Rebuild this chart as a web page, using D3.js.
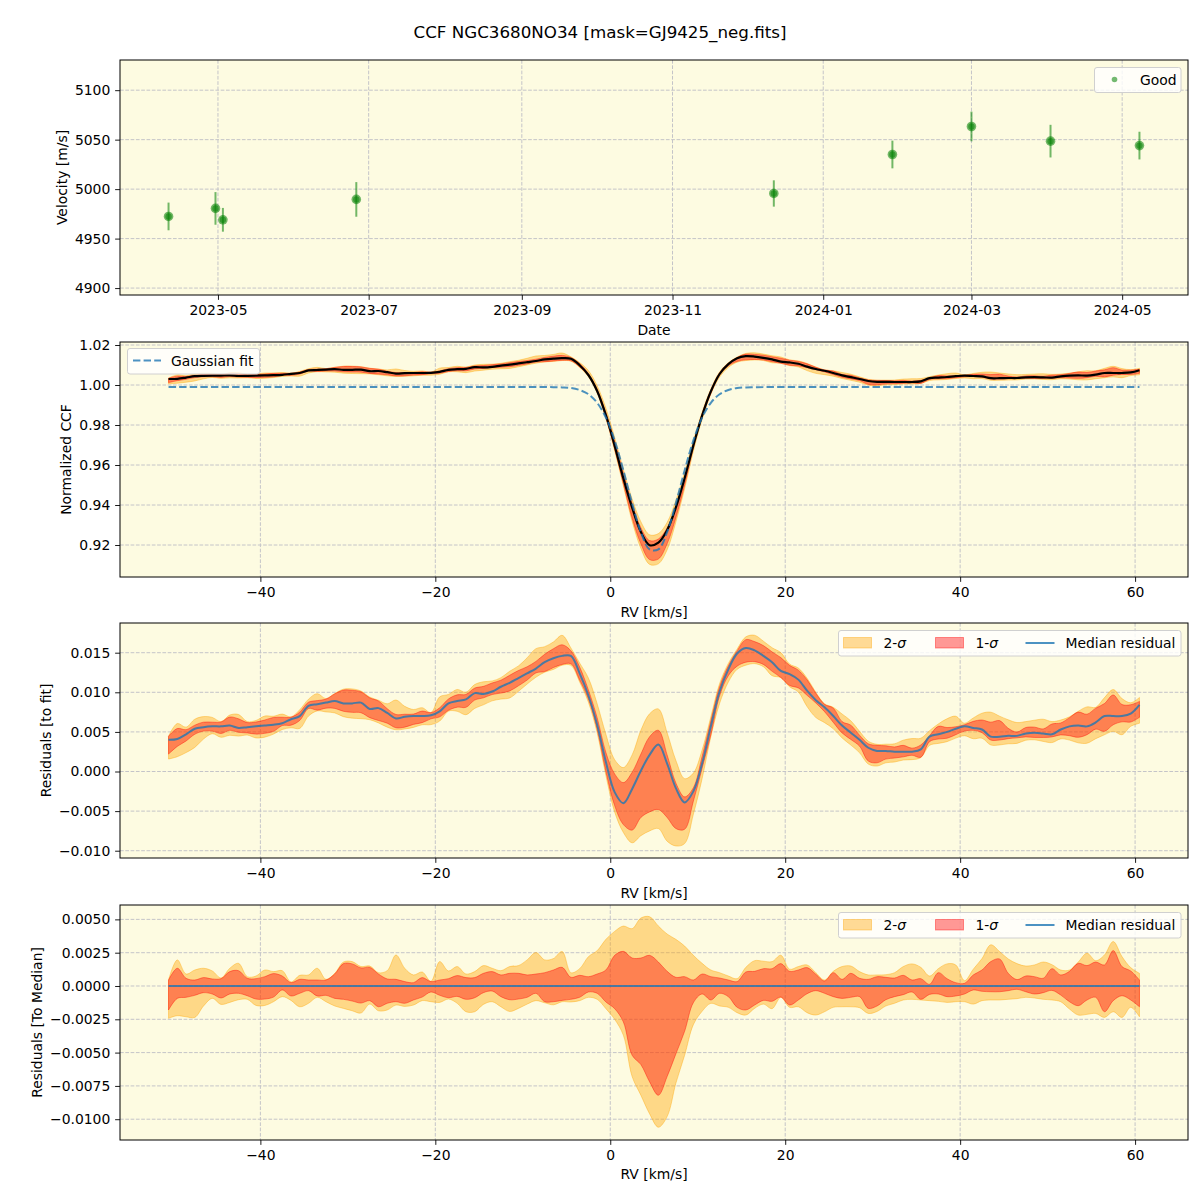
<!DOCTYPE html>
<html><head><meta charset="utf-8">
<script src="https://cdn.jsdelivr.net/npm/d3@7"></script>
<style>
body{margin:0;background:#fff;}
svg text{font-family:"DejaVu Sans",sans-serif;fill:#000;}
</style></head><body>
<svg id="c" width="1200" height="1200"></svg>
<script>
// ---------------- data ----------------
const obsDates = ["2023-04-11","2023-04-30","2023-05-03","2023-06-26","2023-12-12","2024-01-29","2024-03-01","2024-04-02","2024-05-08"];
const obsVel   = [4972.4,4980.5,4969.0,4989.6,4995.6,5035.0,5063.3,5048.5,5044.0];
const obsErr   = [14,16.5,12,17.5,13.3,14,15,16.5,14];
const dateTicks = ["2023-05-01","2023-07-01","2023-09-01","2023-11-01","2024-01-01","2024-03-01","2024-05-01"];
const velTicks = [4900,4950,5000,5050,5100];
const rvTicks  = [-40,-20,0,20,40,60];
const ccfTicks = [0.92,0.94,0.96,0.98,1.00,1.02];
const resTicks = [-0.010,-0.005,0,0.005,0.010,0.015];
const medTicks = [-0.0100,-0.0075,-0.0050,-0.0025,0,0.0025,0.0050];

const rv = [-50.5,-49.5,-48.5,-47.5,-46.5,-45.5,-44.5,-43.5,-42.5,-41.5,-40.5,-39.5,-38.5,-37.5,-36.5,-35.5,-34.5,-33.5,-32.5,-31.5,-30.5,-29.5,-28.5,-27.5,-26.5,-25.5,-24.5,-23.5,-22.5,-21.5,-20.5,-19.5,-18.5,-17.5,-16.5,-15.5,-14.5,-13.5,-12.5,-11.5,-10.5,-9.5,-8.5,-7.5,-6.5,-5.5,-4.5,-3.5,-2.5,-1.5,-0.5,0.5,1.5,2.5,3.5,4.5,5.5,6.5,7.5,8.5,9.5,10.5,11.5,12.5,13.5,14.5,15.5,16.5,17.5,18.5,19.5,20.5,21.5,22.5,23.5,24.5,25.5,26.5,27.5,28.5,29.5,30.5,31.5,32.5,33.5,34.5,35.5,36.5,37.5,38.5,39.5,40.5,41.5,42.5,43.5,44.5,45.5,46.5,47.5,48.5,49.5,50.5,51.5,52.5,53.5,54.5,55.5,56.5,57.5,58.5,59.5,60.5];

const gaussFit = [0.999,0.999,0.999,0.999,0.999,0.999,0.999,0.999,0.999,0.999,
0.999,0.999,0.999,0.999,0.999,0.999,0.999,0.999,0.999,0.999,
0.999,0.999,0.999,0.999,0.999,0.999,0.999,0.999,0.999,0.999,
0.999,0.999,0.999,0.999,0.999,0.999,0.999,0.999,0.999,0.999,
0.999,0.999,0.999,0.999,
0.9989,0.9988,0.9985,0.9975,0.9954,0.9911,0.9837,0.9723,0.9573,0.9409,0.9264,0.9178,0.9178,0.9264,0.9409,0.9573,0.9723,0.9837,0.9911,0.9954,0.9975,0.9985,0.9988,0.9989,
0.999,0.999,0.999,0.999,0.999,0.999,0.999,0.999,0.999,0.999,
0.999,0.999,0.999,0.999,0.999,0.999,0.999,0.999,0.999,0.999,
0.999,0.999,0.999,0.999,0.999,0.999,0.999,0.999,0.999,0.999,
0.999,0.999,0.999,0.999,0.999,0.999,0.999,0.999,0.999,0.999,
0.999,0.999,0.999,0.999];

const residMedian = [0.0040,0.0041,0.0047,0.0054,0.0056,0.0057,0.0057,0.0058,0.0055,0.0056,
0.0057,0.0058,0.0059,0.0061,0.0066,0.0070,0.0083,0.0085,0.0087,0.0089,
0.0086,0.0086,0.0087,0.0079,0.0080,0.0074,0.0067,0.0069,0.0070,0.0070,
0.0071,0.0076,0.0086,0.0089,0.0091,0.0099,0.0098,0.0101,0.0107,0.0112,
0.0118,0.0124,0.0130,0.0138,0.0143,0.0146,0.0146,0.0124,0.0096,0.0059,
0.0012,-0.0026,-0.0040,-0.0022,0.0001,0.0021,0.0034,0.0010,-0.0021,-0.0039,
-0.0025,0.0010,0.0057,0.0101,0.0129,0.0149,0.0156,0.0153,0.0146,0.0138,
0.0127,0.0123,0.0116,0.0102,0.0090,0.0081,0.0070,0.0058,0.0049,0.0040,
0.0030,0.0026,0.0026,0.0025,0.0025,0.0025,0.0028,0.0044,0.0047,0.0050,
0.0054,0.0057,0.0055,0.0053,0.0044,0.0044,0.0045,0.0045,0.0048,0.0049,
0.0048,0.0047,0.0053,0.0057,0.0058,0.0057,0.0062,0.0070,0.0070,0.0070,0.0073,0.0084];

// percentile offsets relative to the median CCF
const sig2Hi = [0.00045,0.00196,0.0009,0.0012,0.00133,0.00113,0.0006,0.00133,0.0017,0.0007,
0.00075,0.0012,0.00108,0.00115,0.0003,0.0008,0.00083,0.00133,0.0005,0.00095,
0.0018,0.00183,0.00146,0.0015,0.001,0.00115,0.00233,0.00133,0.00083,0.00105,
0.00035,0.00183,0.00113,0.00146,0.0009,0.00108,0.00153,0.00133,0.00115,0.00146,
0.00153,0.00196,0.00251,0.00196,0.00206,0.00259,0.0010,0.0013,0.0022,0.00265,
0.0035,0.0041,0.0045,0.0043,0.0051,0.0052,0.0045,0.0039,0.0035,0.0030,
0.0023,0.0017,0.0012,0.0010,0.00075,0.00055,0.0014,0.0019,0.00186,0.00183,
0.00231,0.00126,0.00146,0.00158,0.001,0.00045,0.0011,0.00146,0.0015,0.00108,
0.00083,0.00083,0.00085,0.001,0.00146,0.00166,0.0014,0.00075,0.0013,0.00166,
0.00158,0.0004,0.00126,0.00206,0.00309,0.00259,0.00203,0.00168,0.0015,0.00158,
0.0018,0.0016,0.0012,0.0012,0.0018,0.00246,0.0019,0.00233,0.00334,0.00221,0.00138,0.00095];
const sig1Hi = [0.00045,0.00133,0.00058,0.00045,0.00063,0.00053,0.00055,0.00108,0.00115,0.00058,
0.00055,0.0007,0.00093,0.00075,0.00025,0.0005,0.00045,0.00045,0.00045,0.0009,
0.00168,0.00166,0.00136,0.0014,0.0009,0.00053,0.0005,0.00033,0.00025,0.00063,
0.00033,0.00045,0.00055,0.00078,0.00063,0.00063,0.00095,0.00108,0.00083,0.00095,
0.00095,0.00083,0.0009,0.001,0.0012,0.0014,0.00065,0.0008,0.0007,0.0009,
0.0012,0.0023,0.0026,0.0021,0.0021,0.0023,0.0018,0.0011,0.00065,0.0007,
0.00045,0.0009,0.0007,0.0006,0.00045,0.00033,0.00105,0.0011,0.0013,0.0013,
0.00168,0.0011,0.0012,0.00138,0.00088,0.00038,0.001,0.0005,0.00095,0.00058,
0.0005,0.0007,0.00065,0.0006,0.0008,0.00045,0.00055,0.00013,0.001,0.00055,
0.00025,0.0002,0.00083,0.0012,0.00183,0.00203,0.00095,0.00048,0.00075,0.0007,
0.00058,0.0013,0.00083,0.0011,0.0017,0.00153,0.0018,0.00158,0.00266,0.00146,0.00113,0.00045];
const sig1Lo = [-0.0018,-0.00093,-0.00085,-0.0007,-0.0005,-0.0006,-0.0009,-0.0006,-0.00055,-0.00073,
-0.00098,-0.00098,-0.00083,-0.0003,-0.00075,-0.00055,-0.00035,-0.00075,-0.0007,-0.00093,
-0.001,-0.00113,-0.00128,-0.0011,-0.00156,-0.0013,-0.00118,-0.0013,-0.00105,-0.00083,
-0.00045,-0.0007,-0.00088,-0.00078,-0.001,-0.00088,-0.0005,-0.00038,-0.0008,-0.00103,
-0.00098,-0.00085,-0.00055,-0.00118,-0.00118,-0.00108,-0.001,-0.00085,-0.00045,-0.00055,
-0.0012,-0.0017,-0.0027,-0.0052,-0.0059,-0.0072,-0.0082,-0.0068,-0.0051,-0.0034,
-0.00125,-0.0006,-0.00105,-0.00055,-0.0008,-0.0016,-0.0018,-0.00143,-0.00108,-0.00115,
-0.00083,-0.00143,-0.00105,-0.00058,-0.00035,-0.00055,-0.0008,-0.00093,-0.00085,-0.0008,
-0.00168,-0.0015,-0.00103,-0.0008,-0.00065,-0.00045,-0.001,-0.00063,-0.0006,-0.0008,
-0.00075,-0.0006,-0.0003,-0.0004,-0.00043,-0.00043,-0.00035,-0.00025,-0.00043,-0.0006,
-0.0005,-0.00033,-0.00068,-0.00118,-0.00148,-0.00105,-0.00085,-0.00193,-0.0011,-0.00073,-0.00105,-0.00156];
const sig2Lo = [-0.00243,-0.00223,-0.00231,-0.00236,-0.0015,-0.00093,-0.00138,-0.00123,-0.00103,-0.001,
-0.00146,-0.00146,-0.00118,-0.0008,-0.00108,-0.00156,-0.0013,-0.00085,-0.00118,-0.0015,
-0.00168,-0.00186,-0.00203,-0.00136,-0.00186,-0.0018,-0.00143,-0.00153,-0.00143,-0.0011,
-0.00118,-0.00123,-0.00098,-0.0013,-0.00193,-0.00193,-0.00138,-0.00118,-0.00156,-0.00191,
-0.00168,-0.00136,-0.0011,-0.00126,-0.00141,-0.00118,-0.0012,-0.0011,-0.00085,-0.001,
-0.0017,-0.0025,-0.0037,-0.0068,-0.0082,-0.0096,-0.0106,-0.0098,-0.0073,-0.0052,
-0.0029,-0.0019,-0.0013,-0.0015,-0.0016,-0.002,-0.00218,-0.00168,-0.00136,-0.0017,
-0.00085,-0.0016,-0.00156,-0.002,-0.00218,-0.00193,-0.0016,-0.00156,-0.00156,-0.00163,
-0.00206,-0.00191,-0.0015,-0.0013,-0.00105,-0.001,-0.00105,-0.0011,-0.00115,-0.00123,
-0.00118,-0.00118,-0.00136,-0.0011,-0.00105,-0.00105,-0.001,-0.00095,-0.00085,-0.0009,
-0.001,-0.00105,-0.00118,-0.00173,-0.00218,-0.00213,-0.00206,-0.00236,-0.00193,-0.00236,-0.0016,-0.00231];

// ---------------- layout ----------------
const svg = d3.select("#c");
const L = 120, R = 1188;
const P = [{top:60,bottom:295},{top:342,bottom:577},{top:623,bottom:858},{top:905,bottom:1140}];
const BG = "#fdfbe1";
const GRID = "#c4c4c8";
const ORANGE = "#FFA500", RED = "#FF0000", BLUE = "#1f77b4", GREEN = "#008000";
const TS = 4.86, FS = "13.9px";
const minus = s => s.replace(/-/g, "\u2212");

const ccfMedian = gaussFit.map((g,i) => g + residMedian[i]);

function bg(p){
  svg.append("rect").attr("x",L).attr("y",p.top).attr("width",R-L).attr("height",p.bottom-p.top).attr("fill",BG);
}
function grid(p, xs, xt, ys, yt){
  const g = svg.append("g").attr("stroke",GRID).attr("stroke-width",1).attr("stroke-dasharray","3.7,1.6");
  xt.forEach(t => g.append("line").attr("x1",xs(t)).attr("x2",xs(t)).attr("y1",p.top).attr("y2",p.bottom));
  yt.forEach(t => g.append("line").attr("x1",L).attr("x2",R).attr("y1",ys(t)).attr("y2",ys(t)));
}
function axes(p, xs, xt, xfmt, ys, yt, yfmt){
  svg.append("rect").attr("x",L).attr("y",p.top).attr("width",R-L).attr("height",p.bottom-p.top)
    .attr("fill","none").attr("stroke","#000").attr("stroke-width",1);
  const gx = svg.append("g").attr("transform",`translate(0,${p.bottom})`)
    .call(d3.axisBottom(xs).tickValues(xt).tickFormat(xfmt).tickSize(TS).tickPadding(TS).tickSizeOuter(0));
  const gy = svg.append("g").attr("transform",`translate(${L},0)`)
    .call(d3.axisLeft(ys).tickValues(yt).tickFormat(yfmt).tickSize(TS).tickPadding(TS).tickSizeOuter(0));
  [gx,gy].forEach(g => {
    g.select(".domain").remove();
    g.selectAll("line").attr("stroke","#000").attr("stroke-width",0.9);
    g.selectAll("text").style("font-family","DejaVu Sans, sans-serif").style("font-size",FS).attr("fill","#000");
  });
}
function ylabel(txt, x, p){
  svg.append("text").attr("transform",`translate(${x},${(p.top+p.bottom)/2}) rotate(-90)`)
    .attr("text-anchor","middle").attr("dominant-baseline","central").style("font-size",FS).text(txt);
}
function xlabel(txt, y){
  svg.append("text").attr("x",(L+R)/2).attr("y",y).attr("text-anchor","middle")
    .attr("dominant-baseline","central").style("font-size",FS).text(txt);
}
function bandPath(g, xs, ys, base, lo, hi, color){
  const area = d3.area().curve(d3.curveCatmullRom)
    .x((d,i) => xs(rv[i])).y0((d,i) => ys(base[i] + lo[i])).y1((d,i) => ys(base[i] + hi[i]));
  g.append("path").datum(rv).attr("d",area).attr("fill",color).attr("fill-opacity",0.4)
    .attr("stroke",color).attr("stroke-opacity",0.4).attr("stroke-width",1);
}
function sigmaLegend(y0){
  const g = svg.append("g");
  g.append("rect").attr("x",838.5).attr("y",y0).attr("width",342.5).attr("height",25.5).attr("rx",2.5)
    .attr("fill","#fff").attr("fill-opacity",0.8).attr("stroke","#d0d0d0").attr("stroke-width",1);
  const cy = y0 + 12.5;
  g.append("rect").attr("x",843.5).attr("y",cy-5.5).attr("width",28).attr("height",10.5)
    .attr("fill",ORANGE).attr("fill-opacity",0.4).attr("stroke",ORANGE).attr("stroke-opacity",0.4);
  const t1 = g.append("text").attr("x",883.5).attr("y",cy).attr("dominant-baseline","central").style("font-size",FS);
  t1.append("tspan").text("2-"); t1.append("tspan").style("font-style","italic").text("\u03c3");
  g.append("rect").attr("x",935.5).attr("y",cy-5.5).attr("width",28).attr("height",10.5)
    .attr("fill",RED).attr("fill-opacity",0.4).attr("stroke",RED).attr("stroke-opacity",0.4);
  const t2 = g.append("text").attr("x",975.5).attr("y",cy).attr("dominant-baseline","central").style("font-size",FS);
  t2.append("tspan").text("1-"); t2.append("tspan").style("font-style","italic").text("\u03c3");
  g.append("line").attr("x1",1025.5).attr("x2",1054.5).attr("y1",cy).attr("y2",cy)
    .attr("stroke",BLUE).attr("stroke-opacity",0.8).attr("stroke-width",2);
  g.append("text").attr("x",1065.5).attr("y",cy).attr("dominant-baseline","central").style("font-size",FS).text("Median residual");
}

// ---------------- title ----------------
svg.append("text").attr("x",600).attr("y",32).attr("text-anchor","middle").attr("dominant-baseline","central")
  .style("font-size","16.7px").text("CCF NGC3680NO34 [mask=GJ9425_neg.fits]");

// ---------------- panel 1 ----------------
{
  const p = P[0];
  const parse = d3.timeParse("%Y-%m-%d");
  const dts = obsDates.map(parse);
  const ext = d3.extent(dts);
  const pad = (ext[1] - ext[0]) * 0.05;
  const xs = d3.scaleTime().domain([new Date(+ext[0]-pad), new Date(+ext[1]+pad)]).range([L,R]);
  const ys = d3.scaleLinear().domain([4893,5130.5]).range([p.bottom,p.top]);
  const xt = dateTicks.map(parse);
  bg(p); grid(p, xs, xt, ys, velTicks);
  const g = svg.append("g");
  g.selectAll("line.err").data(obsVel).join("line")
    .attr("x1",(d,i)=>xs(dts[i])).attr("x2",(d,i)=>xs(dts[i]))
    .attr("y1",(d,i)=>ys(d-obsErr[i])).attr("y2",(d,i)=>ys(d+obsErr[i]))
    .attr("stroke",GREEN).attr("stroke-opacity",0.55).attr("stroke-width",2);
  g.selectAll("circle.m").data(obsVel).join("circle")
    .attr("cx",(d,i)=>xs(dts[i])).attr("cy",d=>ys(d)).attr("r",4.8)
    .attr("fill",GREEN).attr("fill-opacity",0.55);
  g.selectAll("circle.c").data(obsVel).join("circle")
    .attr("cx",(d,i)=>xs(dts[i])).attr("cy",d=>ys(d)).attr("r",3.2)
    .attr("fill",GREEN).attr("fill-opacity",0.5);
  axes(p, xs, xt, d3.timeFormat("%Y-%m"), ys, velTicks, d=>d3.format("d")(d));
  ylabel("Velocity [m/s]", 62, p);
  xlabel("Date", 330);
  // legend
  const lg = svg.append("g");
  lg.append("rect").attr("x",1094.5).attr("y",67.5).attr("width",86.5).attr("height",25).attr("rx",2.5)
    .attr("fill","#fff").attr("fill-opacity",0.8).attr("stroke","#d0d0d0");
  lg.append("circle").attr("cx",1114.5).attr("cy",79.5).attr("r",2.8).attr("fill",GREEN).attr("fill-opacity",0.55);
  lg.append("text").attr("x",1140).attr("y",79.5).attr("dominant-baseline","central").style("font-size",FS).text("Good");
}

// shared RV scale
const rvExt = d3.extent(rv), rvPad = (rvExt[1]-rvExt[0])*0.05;
const makeX = () => d3.scaleLinear().domain([rvExt[0]-rvPad, rvExt[1]+rvPad]).range([L,R]);
const rvFmt = d => minus(d3.format("d")(d));

// ---------------- panel 2 ----------------
{
  const p = P[1];
  const xs = makeX();
  const ys = d3.scaleLinear().domain([0.9040,1.0215]).range([p.bottom,p.top]);
  bg(p); grid(p, xs, rvTicks, ys, ccfTicks);
  const g = svg.append("g");
  bandPath(g, xs, ys, ccfMedian, sig2Lo, sig2Hi, ORANGE);
  bandPath(g, xs, ys, ccfMedian, sig1Lo, sig1Hi, RED);
  const line = d3.line().curve(d3.curveCatmullRom).x((d,i)=>xs(rv[i])).y(d=>ys(d));
  g.append("path").datum(ccfMedian).attr("d",line).attr("fill","none").attr("stroke","#000").attr("stroke-width",2.2);
  g.append("path").datum(gaussFit).attr("d",line).attr("fill","none").attr("stroke",BLUE)
    .attr("stroke-opacity",0.8).attr("stroke-width",2).attr("stroke-dasharray","7.4,3.2");
  axes(p, xs, rvTicks, rvFmt, ys, ccfTicks, d=>d3.format(".2f")(d));
  ylabel("Normalized CCF", 66, p);
  xlabel("RV [km/s]", 612);
  const lg = svg.append("g");
  lg.append("rect").attr("x",127.5).attr("y",348.5).attr("width",132).attr("height",25.5).attr("rx",2.5)
    .attr("fill","#fff").attr("fill-opacity",0.8).attr("stroke","#d0d0d0");
  lg.append("line").attr("x1",133).attr("x2",161).attr("y1",360.5).attr("y2",360.5)
    .attr("stroke",BLUE).attr("stroke-opacity",0.8).attr("stroke-width",2).attr("stroke-dasharray","7.4,3.2");
  lg.append("text").attr("x",171).attr("y",360.5).attr("dominant-baseline","central").style("font-size",FS).text("Gaussian fit");
}

// ---------------- panel 3 ----------------
{
  const p = P[2];
  const xs = makeX();
  const ys = d3.scaleLinear().domain([-0.01092,0.01875]).range([p.bottom,p.top]);
  bg(p); grid(p, xs, rvTicks, ys, resTicks);
  const g = svg.append("g");
  bandPath(g, xs, ys, residMedian, sig2Lo, sig2Hi, ORANGE);
  bandPath(g, xs, ys, residMedian, sig1Lo, sig1Hi, RED);
  const line = d3.line().curve(d3.curveCatmullRom).x((d,i)=>xs(rv[i])).y(d=>ys(d));
  g.append("path").datum(residMedian).attr("d",line).attr("fill","none").attr("stroke",BLUE)
    .attr("stroke-opacity",0.8).attr("stroke-width",2);
  axes(p, xs, rvTicks, rvFmt, ys, resTicks, d=>minus(d3.format(".3f")(d)));
  ylabel("Residuals [to fit]", 46, p);
  xlabel("RV [km/s]", 893);
  sigmaLegend(630.5);
}

// ---------------- panel 4 ----------------
{
  const p = P[3];
  const xs = makeX();
  const ys = d3.scaleLinear().domain([-0.01156,0.00608]).range([p.bottom,p.top]);
  bg(p); grid(p, xs, rvTicks, ys, medTicks);
  const g = svg.append("g");
  const relMed = ccfMedian.map((v,i) => v - ccfMedian[i]);
  bandPath(g, xs, ys, relMed, sig2Lo, sig2Hi, ORANGE);
  bandPath(g, xs, ys, relMed, sig1Lo, sig1Hi, RED);
  const line = d3.line().x((d,i)=>xs(rv[i])).y(d=>ys(d));
  g.append("path").datum(relMed).attr("d",line).attr("fill","none").attr("stroke",BLUE)
    .attr("stroke-opacity",0.8).attr("stroke-width",2);
  axes(p, xs, rvTicks, rvFmt, ys, medTicks, d=>minus(d3.format(".4f")(d)));
  ylabel("Residuals [To Median]", 37, p);
  xlabel("RV [km/s]", 1174);
  sigmaLegend(912.5);
}
</script>
</body></html>
